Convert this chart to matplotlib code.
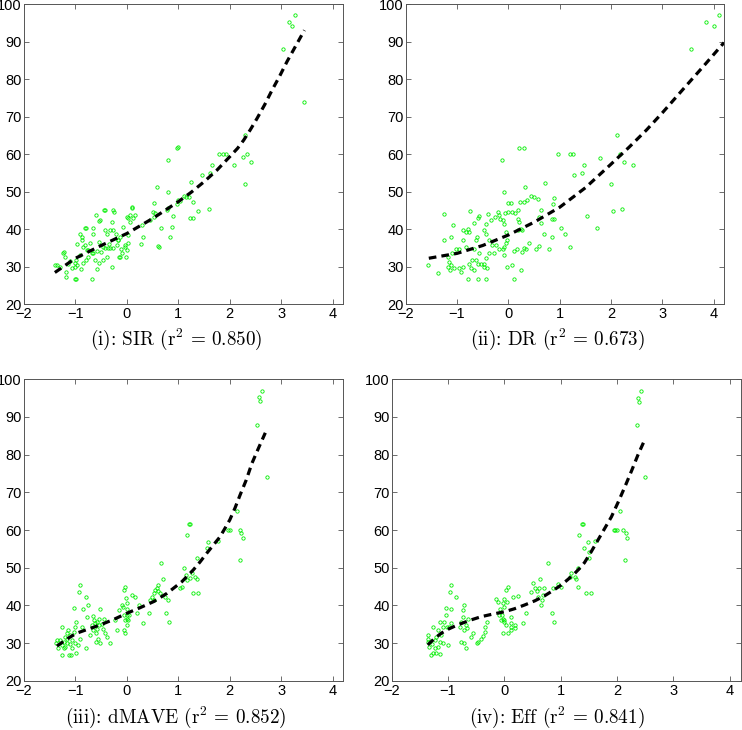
#!/usr/bin/env python3
"""
Four-panel comparison of dimension-reduction fits: response vs. estimated
single index, with the fitted link function drawn as a dashed curve.
"""

import matplotlib
matplotlib.use("Agg")
import matplotlib.pyplot as plt

plt.rcParams['mathtext.fontset'] = 'cm'
plt.rcParams['font.family'] = ['Liberation Sans', 'DejaVu Sans']

W, H = 742, 730

# ---------------------------------------------------------------- panel (i)
x1 = [3.26, 3.15, 3.21, 3.03, 3.45, 2.29, 2.33, 2.41, 2.25, 1.79, 1.86, 1.92,
      2.09, 1.66, 1.61, 1.46, 2.29, 1.24, 1.59, 1.39, 1.28, 1.22, 1.29, 1.15,
      1.10, 1.20, 1.00, 1.04, 0.97, 0.97, 0.99, 0.80, 0.79, 0.58, 0.53, 0.80,
      0.77, 0.90, 0.88, 0.84, 0.67, 0.61, 0.63, 0.45, 0.50, 0.55, 0.53, 0.30,
      0.32, 0.27, 0.15, 0.09, 0.11, 0.00, 0.03, -0.04, -0.02, -0.15, -0.11,
      -0.17, -0.22, -0.26, -0.27, -0.44, -0.43, -0.38, -0.46, -0.42, -0.37,
      -0.32, -0.27, -0.54, -0.54, -0.60, -0.65, -0.66, -0.62, -0.78, -0.81,
      -0.88, -0.91, -0.80, -0.97, -1.00, -0.98, -1.00, -0.97, -0.98, -1.00,
      -1.07, -1.14, -1.18, -1.23, -1.25, -1.20, -1.30, -1.40, -1.36, -1.18,
      -0.68, -0.79, -0.75, -0.91, -0.72, -0.33, -0.29, -0.27, -0.42, -0.53,
      -0.65, -0.81, -0.88, -0.85, -0.75, -0.68, -0.55, -0.46, -0.39, -0.29,
      -0.13, -0.10, -0.18, -0.13, -0.07, 0.03, 0.06, 0.06, 0.09, -0.04, 0.00,
      0.03, -0.50, -0.58, -0.35, -0.20, -0.58, -0.90, -1.10, -0.85]
y1 = [97.2, 95.2, 94.1, 88.1, 74.0, 65.0, 60.0, 58.0, 59.1, 60.0, 60.0, 60.0,
      57.0, 57.0, 55.0, 54.3, 52.0, 52.5, 45.4, 44.8, 43.0, 43.0, 47.1, 48.6,
      48.9, 48.6, 47.7, 47.5, 46.7, 61.7, 61.8, 58.5, 49.9, 51.1, 47.0, 45.5,
      45.2, 43.5, 40.6, 38.0, 40.2, 35.5, 35.3, 42.4, 44.5, 44.2, 43.3, 41.0,
      38.0, 36.0, 43.8, 45.7, 42.9, 43.3, 38.4, 35.7, 32.6, 32.6, 34.8,
      37.0, 38.8, 44.5, 39.7, 45.2, 39.7, 38.8, 35.3, 34.9, 34.9,
      34.9, 34.9, 42.1, 36.6, 43.7, 38.8, 33.5, 31.7, 34.4, 35.7,
      37.0, 38.6, 40.2, 35.9, 31.0, 31.8, 29.8, 30.4, 26.6, 26.8,
      29.5, 30.8, 28.6, 34.0, 33.5, 32.6, 29.9, 30.4, 30.5, 27.1,
      26.8, 31.7, 32.6, 33.0, 36.2, 39.7, 41.9, 45.0, 45.0, 42.4,
      40.2, 40.3, 37.9, 35.3, 34.4, 33.5, 30.9, 31.7, 32.6, 29.9,
      32.6, 33.5, 37.1, 37.9, 40.6, 42.9, 43.7, 41.9, 46.0, 35.3, 34.4,
      36.2, 33.8, 34.1, 36.0, 35.8, 29.4, 29.3, 31.5, 31.0]
fit1_x = [-1.40, -1.00, -0.50, 0.00, 0.50, 1.00, 1.25, 1.50, 1.75, 2.00, 2.15,
          2.27, 2.40, 2.53, 2.68, 2.82, 2.97, 3.11, 3.28, 3.45]
fit1_y = [28.4, 32.2, 35.6, 38.8, 42.8, 47.3, 49.8, 52.6, 55.7, 59.3, 61.5,
          63.7, 66.5, 69.5, 73.2, 77.0, 80.8, 84.6, 88.8, 93.0]

# --------------------------------------------------------------- panel (ii)
x2 = [4.11, 3.85, 4.00, 3.56, 2.11, 2.17, 2.25, 2.43, 1.78, 1.20, 1.25, 0.97,
      1.47, 1.44, 1.28, 1.99, 2.04, 2.21, 1.54, 1.72, 1.03, 1.10, 1.21, 0.72,
      0.88, 0.86, 0.85, 0.88, 0.85, 0.80, 0.70, 0.63, 0.60, 0.63, 0.60, 0.54,
      0.57, 0.50, 0.44, 0.37, 0.31, 0.22, 0.33, 0.21, 0.30, -0.13, -0.08, 0.00,
      0.05, -0.01, -0.07, 0.08, 0.12, 0.18, 0.21, 0.18, 0.27, 0.30, 0.34, 0.40,
      0.27, 0.16, 0.11, -0.02, -0.05, -0.08, -0.11, -0.11, -0.09, -0.05, -0.08,
      -0.03, 0.08, 0.24, 0.11, -0.21, -0.19, -0.16, -0.26, -0.39, -0.34, -0.44,
      -0.47, -0.44, -0.37, -0.31, -0.24, -0.18, -0.28, -0.37, -0.44, -0.47,
      -0.41, -0.48, -0.54, -0.59, -0.63, -0.57, -0.66, -0.63, -0.61, -0.60,
      -0.58, -0.66, -0.74, -0.79, -0.83, -0.76, -0.89, -0.89, -0.83, -0.96,
      -1.02, -1.09, -1.12, -1.17, -1.13, -1.05, -0.96, -0.89, -0.92, -0.79,
      -0.60, -0.44, -0.66, -0.73, -0.76, -0.70, -1.25, -1.07, -1.12, -1.25,
      -1.18, -1.15, -1.38, -1.57, 0.18, 0.24]
y2 = [97.2, 95.2, 94.1, 88.1, 65.0, 60.0, 58.0, 57.0, 59.0, 60.0, 60.0, 60.0,
      57.0, 55.0, 54.3, 52.0, 44.7, 45.4, 43.5, 40.4, 40.2, 38.8, 35.3, 52.4,
      48.4, 46.8, 42.8, 42.8, 38.0, 34.8, 38.8, 45.2, 43.3, 41.5, 35.5, 34.8,
      47.9, 48.6, 48.8, 47.7, 47.3, 47.3, 51.1, 61.7, 61.5, 58.5, 49.9, 47.0,
      47.0, 44.6, 44.2, 44.6, 44.2, 42.8, 42.0, 45.0, 39.7, 35.0, 34.6, 36.2,
      34.0, 34.8, 34.2, 37.1, 36.2, 35.3, 34.8, 42.4, 41.3, 39.3, 33.0,
      30.0, 30.4, 29.2, 26.8, 44.6, 43.7, 42.6, 43.3, 43.9, 42.4, 41.3,
      39.7, 38.8, 37.1, 35.7, 35.7, 34.8, 33.5, 33.5, 32.2, 30.8,
      29.5, 30.0, 30.8, 30.8, 31.7, 33.5, 34.8, 37.1, 38.0, 43.0,
      43.6, 41.5, 44.9, 39.9, 39.1, 39.3, 39.7, 37.1, 35.3, 34.8,
      34.8, 33.5, 30.4, 30.0, 29.1, 29.5, 29.5, 30.0, 28.6, 26.8,
      26.6, 26.6, 29.1, 29.5, 30.8, 31.7, 44.0, 41.1, 38.0, 37.1,
      32.6, 31.3, 28.4, 30.4, 39.7, 39.9]
fit2_x = [-1.55, -1.00, -0.50, 0.00, 0.50, 1.00, 1.50, 2.00, 2.35, 2.69,
          3.00, 3.45, 3.80, 4.20]
fit2_y = [32.2, 33.5, 35.6, 38.4, 41.8, 45.8, 51.0, 57.3, 61.8, 66.4,
          71.0, 78.0, 83.4, 89.7]

# -------------------------------------------------------------- panel (iii)
x3 = [2.62, 2.56, 2.59, 2.53, 2.72, 2.14, 1.96, 2.01, 2.19, 2.22, 2.25, 2.19,
      1.78, 1.55, 1.58, 1.37, 1.22, 1.20, 1.16, 1.10, 1.26, 1.33, 1.36, 1.23,
      1.16, 1.14, 1.07, 1.04, 1.28, 1.38, 0.67, 0.71, 0.60, 0.58, 0.55, 0.61,
      0.52, 0.65, 0.48, 0.44, 0.52, 0.74, 0.80, 0.76, 0.81, 0.42, 0.32, 0.24,
      0.16, 0.09, 0.19, -0.03, -0.05, -0.02, 0.00, -0.07, -0.10, 0.00, -0.05,
      0.00, 0.05, -0.03, 0.00, 0.03, 0.00, -0.05, -0.03, -0.16, -0.23, -0.20,
      -0.33, -0.42, -0.39, -0.46, -0.52, -0.55, -0.59, -0.60, -0.57, -0.52,
      -0.60, -0.65, -0.63, -0.62, -0.68, -0.66, -0.72, -0.75, -0.77, -0.85,
      -0.79, -0.91, -0.94, -0.88, -0.91, -0.79, -0.98, -1.01, -1.03, -0.96,
      -0.99, -1.12, -1.08, -1.03, -1.27, -1.00, -1.07, -1.10, -1.14, -1.17,
      -1.20, -1.23, -1.17, -1.10, -1.07, -1.20, -1.27, -1.27, -1.30, -1.35,
      -1.38, -1.33, -1.23, -1.17, -0.58, -0.55, -0.48, -0.45]
y3 = [97.0, 95.2, 94.3, 88.0, 74.1, 65.0, 60.0, 60.0, 60.0, 59.1, 58.0, 52.0,
      57.1, 55.1, 56.9, 52.5, 61.7, 61.5, 58.7, 49.8, 48.5, 47.6, 46.9, 47.2,
      46.7, 48.0, 45.0, 44.5, 43.2, 43.2, 51.3, 47.1, 45.5, 44.5, 44.0, 43.9,
      43.2, 43.2, 42.3, 41.4, 41.4, 42.3, 41.4, 38.1, 35.7, 38.1, 35.4, 40.1,
      42.3, 42.7, 37.9, 45.0, 44.1, 41.9, 40.5, 39.6, 40.1, 38.9, 37.5,
      37.5, 37.5, 36.0, 36.3, 36.0, 34.8, 33.5, 32.6, 38.8, 36.1, 33.5,
      30.1, 32.6, 31.7, 33.6, 39.1, 34.8, 33.6, 32.6, 31.2, 29.9,
      30.4, 37.2, 36.1, 35.2, 34.8, 33.5, 32.1, 40.1, 37.0, 38.9,
      42.3, 45.3, 43.6, 34.3, 31.2, 28.6, 35.7, 34.3, 33.0, 29.5,
      27.3, 26.9, 26.9, 39.4, 26.8, 30.1, 30.8, 32.1, 33.5, 32.6,
      31.7, 30.4, 29.9, 29.7, 28.6, 29.0, 29.5, 34.3, 30.8, 30.8,
      29.9, 28.6, 28.6, 31.2, 35.5, 36.3, 35.0, 36.5]
fit3_x = [-1.36, -1.15, -0.98, -0.75, -0.52, -0.25, 0.00, 0.26, 0.52, 0.78,
          1.07, 1.29, 1.42, 1.55, 1.68, 1.81, 1.90, 2.00, 2.10, 2.20, 2.32,
          2.43, 2.56, 2.69]
fit3_y = [29.2, 31.2, 32.6, 33.7, 34.8, 36.3, 37.9, 39.4, 41.0, 43.2,
          46.3, 49.4, 51.5, 53.8, 56.0, 58.2, 60.3, 62.7, 65.8, 69.3, 73.3,
          77.7, 81.8, 85.8]

# --------------------------------------------------------------- panel (iv)
x4 = [2.42, 2.38, 2.39, 2.36, 2.49, 2.06, 1.94, 1.97, 2.00, 2.11, 2.15, 2.17,
      2.14, 1.60, 1.48, 1.50, 1.42, 1.51, 1.37, 1.40, 1.32, 1.31, 1.19, 1.25,
      1.28, 1.16, 1.31, 1.45, 1.53, 1.01, 0.95, 0.86, 0.77, 0.64, 0.51, 0.55,
      0.61, 0.58, 0.48, 0.59, 0.68, 0.66, 0.65, 0.71, 0.85, 0.88, 0.39, 0.33,
      0.24, 0.15, 0.06, 0.03, 0.00, 0.05, -0.03, 0.00, -0.12, -0.15, -0.07,
      -0.10, -0.04, -0.03, -0.06, -0.01, 0.00, 0.12, 0.11, 0.18, 0.12, 0.03,
      -0.03, 0.11, 0.06, 0.18, -0.31, -0.34, -0.35, -0.38, -0.42, -0.47, -0.48,
      -0.56, -0.59, -0.64, -0.68, -0.66, -0.71, -0.74, -0.71, -0.74, -0.77,
      -0.78, -0.71, -0.68, -0.77, -0.95, -0.97, -0.86, -0.95, -1.03, -1.03,
      -0.95, -0.98, -1.02, -1.09, -1.15, -1.08, -1.18, -1.12, -1.21, -1.24,
      -1.15, -1.09, -1.00, -1.18, -1.24, -1.27, -1.21, -1.31, -1.15, -1.36,
      -1.35, -1.36, -1.33, -1.27, -1.29]
y4 = [97.0, 95.0, 94.1, 88.0, 74.1, 65.0, 60.0, 60.0, 60.0, 60.0, 59.1, 58.0,
      52.0, 57.1, 56.9, 54.2, 55.1, 52.5, 61.7, 61.7, 58.7, 50.0, 48.5, 47.6,
      46.9, 47.4, 45.0, 43.2, 43.2, 45.0, 45.6, 44.5, 51.3, 47.1, 45.8, 44.5,
      44.5, 43.9, 43.6, 42.3, 42.7, 41.4, 40.1, 44.5, 38.1, 35.7, 38.1, 35.4,
      42.5, 42.3, 45.0, 44.1, 41.6, 41.0, 40.5, 39.6, 41.0, 41.6, 38.9,
      37.4, 37.4, 36.5, 36.1, 36.1, 35.7, 36.8, 35.2, 34.8, 34.3, 34.8,
      32.6, 33.5, 32.6, 33.9, 35.7, 34.3, 33.0, 31.9, 31.2, 30.4, 29.9,
      32.6, 31.7, 36.5, 34.8, 33.9, 33.5, 38.8, 40.1, 37.0, 35.7,
      34.3, 29.9, 28.6, 30.4, 45.4, 43.6, 42.3, 38.9, 39.2, 37.4,
      35.2, 34.3, 34.2, 34.3, 35.7, 35.7, 33.5, 32.1, 31.7, 30.8,
      30.4, 29.9, 29.6, 29.0, 28.6, 27.3, 27.3, 26.8, 27.0, 30.4,
      31.2, 32.1, 29.0, 34.3, 29.7]
fit4_x = [-1.36, -1.24, -1.12, -0.98, -0.83, -0.62, -0.41, -0.20, 0.00, 0.18,
          0.36, 0.54, 0.71, 0.86, 1.01, 1.13, 1.25, 1.34, 1.42, 1.54, 1.66,
          1.78, 1.90, 2.02, 2.14, 2.26, 2.37, 2.49]
fit4_y = [29.5, 31.2, 32.6, 33.8, 34.8, 36.0, 37.0, 37.7, 38.3, 39.1,
          40.1, 41.2, 42.5, 43.9, 45.4, 46.9, 48.5, 49.9, 51.3, 54.2, 57.3,
          60.4, 63.5, 67.4, 71.5, 75.8, 79.9, 83.9]

TITLES = [r'(i): SIR (r$^{2}$ = 0.850)', r'(ii): DR (r$^{2}$ = 0.673)',
          r'(iii): dMAVE (r$^{2}$ = 0.852)', r'(iv): Eff (r$^{2}$ = 0.841)']

# axes boxes in pixels: left, top, right, bottom
BOXES = [(24, 4, 343, 304), (405.7, 4, 724, 304),
         (24, 379.3, 343, 680.7), (391.7, 379.3, 741, 680.7)]
TITLE_POS = [(176, 339), (557, 339), (176, 717), (557, 717)]


def draw_panel(fig, box, xs, ys, fx, fy):
    l, t, r, b = box
    ax = fig.add_axes([l / W, 1 - b / H, (r - l) / W, (b - t) / H])
    ax.plot(xs, ys, 'o', ms=2.4, mfc='none', mec='#00ee00', mew=0.6, zorder=2)
    ax.plot(fx, fy, color='black', lw=2.3, ls=(0, (2.4, 1.6)), zorder=3)
    ax.set_xlim(-2, 4.2)
    ax.set_ylim(20, 100)
    ax.set_xticks(range(-2, 5))
    ax.set_yticks(range(20, 101, 10))
    ax.set_xticklabels(['\u22122', '\u22121', '0', '1', '2', '3', '4'])
    ax.tick_params(direction='in', length=3.5, width=0.6, color='#555555',
                   top=True, right=True, labelsize=10.5, pad=1.5)
    ax.tick_params(axis='x', pad=2.5)
    for sp in ax.spines.values():
        sp.set_linewidth(0.7)
        sp.set_color('#555555')
    return ax


def main():
    fig = plt.figure(figsize=(W / 100, H / 100), dpi=100)
    series = [(x1, y1, fit1_x, fit1_y), (x2, y2, fit2_x, fit2_y),
              (x3, y3, fit3_x, fit3_y), (x4, y4, fit4_x, fit4_y)]
    for box, (xs, ys, fx, fy), title, (tx, ty) in zip(BOXES, series, TITLES, TITLE_POS):
        draw_panel(fig, box, xs, ys, fx, fy)
        fig.text(tx / W, 1 - ty / H, title, ha='center', va='center',
                 fontsize=13.8, family='cmr10')
    fig.savefig('out.png', dpi=100, facecolor='white')
    plt.close(fig)


if __name__ == "__main__":
    main()
